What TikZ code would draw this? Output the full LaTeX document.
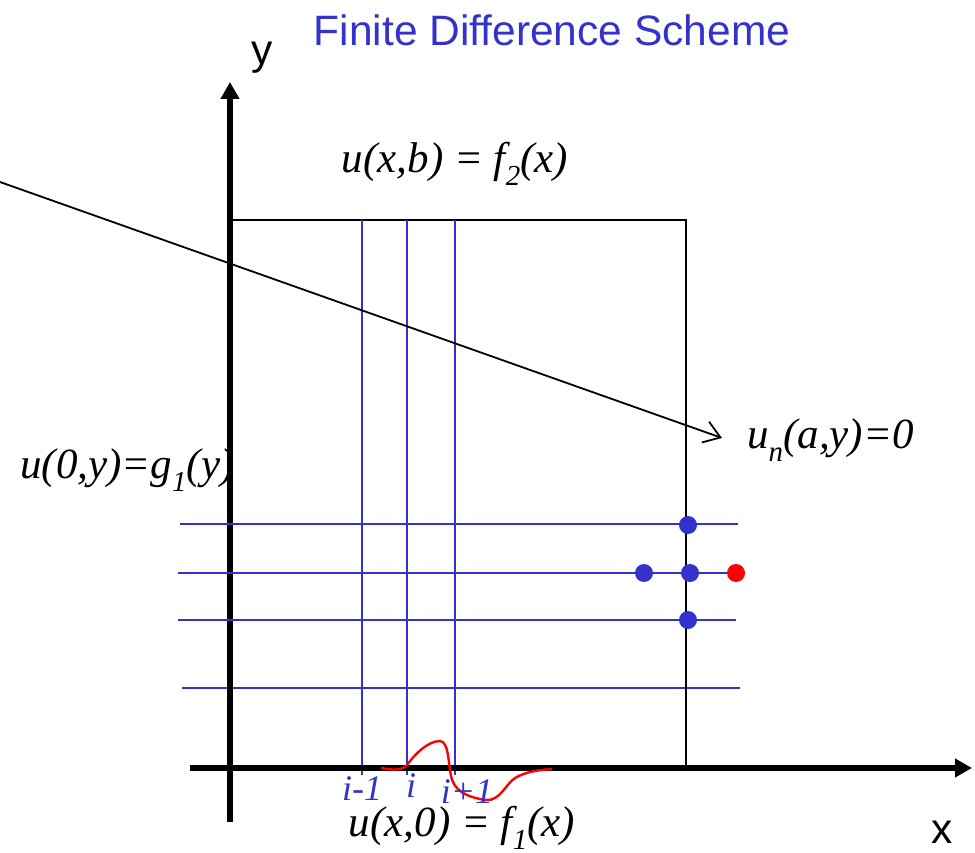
\documentclass[tikz,border=0pt]{standalone}
\usepackage{fontspec}
\setmainfont{Liberation Serif}
\newfontfamily\arialf{Liberation Sans}
\usetikzlibrary{arrows.meta}
\definecolor{myblue}{RGB}{51,51,204}
\definecolor{myred}{RGB}{255,0,0}
\newcommand{\lowsub}[1]{\raisebox{-0.3em}{\fontsize{29}{29}\selectfont #1}}
\tikzset{
  axisline/.style={line width=6.5pt,-{Triangle[length=17pt,width=18pt]}},
  gridline/.style={myblue,line width=1.8pt},
  boxline/.style={black,line width=2pt},
  mathlab/.style={font=\fontsize{43}{46}\selectfont\itshape,inner sep=0pt},
  idxlab/.style={font=\fontsize{36}{38}\selectfont\itshape,text=myblue,inner sep=0pt},
  sanslab/.style={font=\fontsize{42.5}{46}\selectfont\arialf,inner sep=0pt},
  bdot/.style={circle,fill=myblue,minimum size=18pt,inner sep=0pt},
  rdot/.style={circle,fill=myred,minimum size=18pt,inner sep=0pt},
}
\begin{document}
\begin{tikzpicture}[x=1pt,y=-1pt]
\useasboundingbox (0,0) rectangle (975,853);
% title
\node[sanslab,text=myblue] (title) at (552,30) {Finite Difference Scheme};
% boundary labels
\node[mathlab] (top) at (455,164) {u(x,b) = f\lowsub{2}(x)};
\node[mathlab] (bot) at (462,828) {u(x,0) = f\lowsub{1}(x)};
\node[mathlab,anchor=west] (right) at (747,440) {u\lowsub{n}(a,y)=0};
\node[mathlab,anchor=west] (left) at (20,470) {u(0,y)=g\lowsub{1}(y)};
% bottom horizontal grid line (behind axis)
\draw[gridline] (182,688) coordinate (h4a) -- (740,688) coordinate (h4b);
% box
\draw[boxline] (230,220) coordinate (c1) -- (686,220) coordinate (c2) -- (686,768) coordinate (c3);
% vertical grid lines
\draw[gridline] (362,220) coordinate (v1a) -- (362,775) coordinate (v1b);
\draw[gridline] (407,220) coordinate (v2a) -- (407,775) coordinate (v2b);
\draw[gridline] (455,220) coordinate (v3a) -- (455,775) coordinate (v3b);
% axes
\coordinate (yb) at (230,822);
\coordinate (yt) at (230,82);
\coordinate (xl) at (190,768);
\coordinate (xr) at (972,768);
\draw[axisline] (yb) -- (yt);
\draw[axisline] (xl) -- (xr);
\node[sanslab] (ylab) at (262,58) {y};
\node[sanslab] (xlab) at (942,832) {x};
% horizontal grid lines over axis
\draw[gridline] (180,524) coordinate (h1a) -- (738,524) coordinate (h1b);
\draw[gridline] (178,573) coordinate (h2a) -- (736,573) coordinate (h2b);
\draw[gridline] (178,620) coordinate (h3a) -- (736,620) coordinate (h3b);
% dots
\node[bdot] (d1) at (688,525) {};
\node[bdot] (d2) at (644,573) {};
\node[bdot] (d3) at (690,573) {};
\node[bdot] (d4) at (688,620) {};
\node[rdot] (d5) at (736,573) {};
% long arrow
\coordinate (as) at (0,182);
\coordinate (at) at (722,438);
\draw[line width=1.8pt,-{Straight Barb[length=16pt,width=22pt,line width=1.8pt]}] (as) -- (at);
% red curve
\draw[myred,line width=2.4pt] (381,768) .. controls (393,770) and (401,771) .. (407,765)
  .. controls (415,754) and (428,741) .. (440,741)
  .. controls (449,742) and (448,762) .. (451,776)
  .. controls (454,790) and (465,797) .. (486,800)
  .. controls (500,801) and (505,785) .. (515,778)
  .. controls (527,771) and (540,770) .. (552,769);
% index labels
\node[idxlab] (im1) at (362,789) {i-1};
\node[idxlab] (i0) at (411,786) {i};
\node[idxlab] (ip1) at (467,792) {i+1};
\end{tikzpicture}
\end{document}
